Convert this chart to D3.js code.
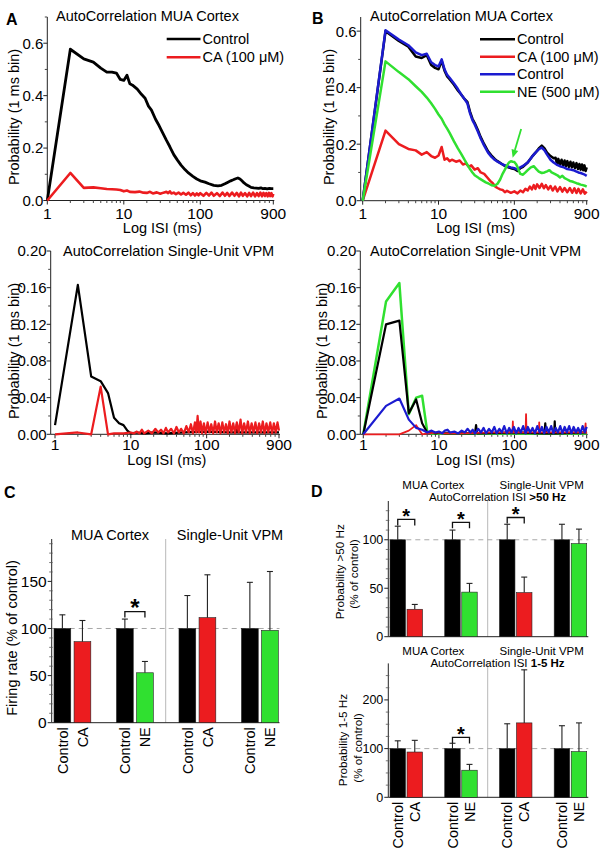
<!DOCTYPE html>
<html><head><meta charset="utf-8">
<script src="https://cdn.jsdelivr.net/npm/d3@7/dist/d3.min.js"></script>
<style>body{margin:0;background:#fff}svg{display:block;font-family:"Liberation Sans",Arial,Helvetica,sans-serif}</style>
</head><body><script>
// ---------------- DATA ----------------
// ISI (ms) / probability pairs
const aTopControl = [[1,0],[2,0.577],[3,0.54],[4,0.528],[5,0.505],[6,0.49],[7,0.49],[8,0.486],[9,0.462],[10,0.458],[11,0.478],[12,0.445],[13,0.44],[15,0.425],[17,0.405],[19,0.39],[21,0.36],[23,0.345],[26,0.31],[29,0.285],[32,0.26],[36,0.23],[40,0.205],[45,0.175],[50,0.155],[56,0.135],[63,0.118],[70,0.105],[80,0.092],[90,0.082],[100,0.075],[115,0.07],[130,0.064],[150,0.058],[170,0.056],[190,0.058],[210,0.064],[230,0.07],[250,0.075],[270,0.079],[290,0.083],[310,0.086],[330,0.082],[350,0.075],[370,0.068],[400,0.06],[430,0.055],[460,0.05],[500,0.048],[540,0.047],[580,0.046],[620,0.048],[660,0.045],[700,0.046],[750,0.044],[800,0.046],[850,0.045],[900,0.045]];
const aTopCA = [[1,0],[2,0.105],[3,0.048],[4,0.05],[5,0.047],[6,0.044],[7,0.043],[8,0.042],[9,0.04],[10,0.035],[11,0.038],[12,0.033],[14,0.032],[16,0.034],[18,0.03],[20,0.029],[22,0.033],[24,0.027],[27,0.031],[30,0.026],[33,0.03],[36,0.033],[38,0.028],[40,0.035],[42,0.027],[45,0.03],[48,0.024],[52,0.03],[56,0.023],[60,0.029],[65,0.022],[70,0.03],[75,0.02],[80,0.028],[85,0.019],[90,0.027],[95,0.02],[100,0.028],[110,0.018],[120,0.029],[130,0.019],[140,0.03],[150,0.018],[165,0.028],[180,0.017],[195,0.03],[210,0.018],[225,0.029],[240,0.017],[260,0.03],[280,0.018],[300,0.029],[320,0.016],[340,0.03],[360,0.018],[385,0.028],[410,0.016],[435,0.029],[460,0.017],[490,0.03],[520,0.016],[550,0.028],[580,0.017],[610,0.03],[640,0.016],[670,0.029],[700,0.017],[730,0.028],[760,0.016],[790,0.029],[820,0.017],[850,0.028],[880,0.016],[900,0.025]];

const bTopControl1 = [[1,0],[2,0.6],[3,0.565],[4,0.545],[5,0.51],[6,0.505],[7,0.515],[8,0.48],[9,0.47],[10,0.465],[11,0.495],[12,0.46],[13,0.44],[14,0.43],[16,0.41],[18,0.39],[20,0.375],[22,0.36],[24,0.35],[26,0.315],[28,0.29],[30,0.275],[33,0.25],[36,0.225],[40,0.2],[45,0.175],[50,0.16],[55,0.148],[60,0.14],[70,0.128],[80,0.12],[90,0.115],[100,0.112],[110,0.105],[120,0.115],[130,0.12],[150,0.135],[170,0.155],[190,0.17],[210,0.185],[230,0.195],[250,0.185],[270,0.17],[300,0.158],[330,0.15],[350,0.152],[365,0.13],[380,0.148],[400,0.128],[420,0.145],[440,0.125],[460,0.142],[480,0.122],[500,0.14],[525,0.12],[550,0.138],[575,0.118],[600,0.135],[630,0.115],[660,0.133],[690,0.112],[720,0.13],[750,0.11],[780,0.128],[810,0.108],[840,0.125],[870,0.105],[900,0.118]];
const bTopCA = [[1,0],[2,0.248],[3,0.2],[4,0.183],[5,0.178],[6,0.163],[7,0.172],[8,0.158],[9,0.152],[10,0.16],[11,0.19],[12,0.145],[13,0.15],[14,0.14],[15,0.145],[17,0.138],[19,0.142],[21,0.128],[23,0.132],[25,0.12],[27,0.125],[30,0.11],[33,0.115],[36,0.1],[40,0.095],[44,0.082],[48,0.07],[52,0.062],[56,0.05],[60,0.045],[65,0.04],[70,0.038],[75,0.03],[80,0.035],[90,0.028],[100,0.033],[110,0.026],[120,0.036],[130,0.03],[140,0.042],[150,0.036],[160,0.05],[170,0.04],[180,0.055],[190,0.042],[200,0.058],[215,0.045],[230,0.06],[245,0.044],[260,0.055],[280,0.04],[300,0.052],[320,0.036],[345,0.05],[370,0.033],[400,0.048],[430,0.032],[460,0.045],[500,0.03],[540,0.045],[580,0.028],[620,0.044],[660,0.027],[700,0.042],[750,0.026],[800,0.04],[850,0.025],[900,0.032]];
const bTopControl2 = [[1,0],[2,0.603],[3,0.57],[4,0.55],[5,0.525],[6,0.515],[7,0.52],[8,0.49],[9,0.48],[10,0.475],[11,0.5],[12,0.465],[13,0.445],[14,0.435],[16,0.415],[18,0.395],[20,0.375],[22,0.36],[24,0.345],[26,0.31],[28,0.285],[30,0.27],[33,0.245],[36,0.22],[40,0.195],[45,0.17],[50,0.155],[55,0.145],[60,0.138],[70,0.128],[80,0.122],[90,0.118],[100,0.115],[110,0.11],[120,0.118],[130,0.123],[150,0.135],[170,0.155],[190,0.17],[210,0.182],[230,0.188],[250,0.178],[270,0.163],[300,0.145],[330,0.135],[360,0.128],[400,0.122],[450,0.118],[500,0.112],[550,0.11],[600,0.108],[650,0.104],[700,0.1],[750,0.098],[800,0.095],[850,0.092],[900,0.088]];
const bTopNE = [[1,0],[2,0.493],[3,0.455],[4,0.43],[5,0.405],[6,0.385],[7,0.365],[8,0.345],[9,0.325],[10,0.305],[11,0.29],[12,0.27],[13,0.255],[14,0.24],[16,0.21],[18,0.185],[20,0.165],[22,0.145],[24,0.128],[26,0.112],[28,0.1],[30,0.09],[34,0.08],[38,0.072],[42,0.065],[46,0.06],[50,0.055],[55,0.053],[60,0.06],[65,0.075],[70,0.095],[75,0.11],[80,0.125],[85,0.135],[90,0.14],[95,0.138],[100,0.137],[105,0.13],[110,0.12],[115,0.105],[120,0.095],[130,0.092],[140,0.1],[150,0.108],[165,0.118],[180,0.122],[195,0.112],[210,0.103],[230,0.098],[250,0.1],[270,0.104],[290,0.108],[310,0.1],[340,0.095],[370,0.09],[400,0.082],[430,0.088],[460,0.08],[500,0.075],[540,0.07],[580,0.068],[620,0.065],[660,0.062],[700,0.06],[750,0.057],[800,0.055],[850,0.053],[900,0.05]];
const bTopArrow = [[123,0.254],[95,0.152]]; // NE peak annotation

const aBotControl = [[1,0.01],[2,0.163],[3,0.063],[4,0.058],[5,0.045],[6,0.018],[7,0.012],[8,0.01],[9,0.004],[10,0.001],[12,0.002],[15,0.001],[20,0.002],[30,0.001],[50,0.002],[100,0.003],[200,0.002],[245,0.002],[250,0.011],[255,0.002],[500,0.002],[900,0.002]];
const aBotCA = [[1,0],[2,0.002],[3,0],[4,0.052],[5,0],[6,0.001],[8,0.001],[10,0.002],[11,0.001],[12,0.003],[13,0.001],[14,0.005],[15,0.001],[17,0.004],[19,0.001],[21,0.006],[23,0.002],[25,0.005],[27,0.001],[29,0.007],[31,0.002],[34,0.006],[37,0.001],[40,0.008],[43,0.002],[46,0.006],[50,0.001],[54,0.009],[58,0.002],[62,0.011],[66,0.001],[70,0.013],[73,0.002],[76,0.02],[79,0.002],[83,0.014],[87,0.001],[92,0.012],[97,0.001],[103,0.013],[109,0.002],[115,0.011],[122,0.001],[129,0.014],[136,0.002],[144,0.012],[152,0.001],[161,0.013],[170,0.002],[180,0.011],[190,0.001],[200,0.014],[212,0.002],[224,0.012],[237,0.001],[250,0.013],[265,0.002],[280,0.016],[295,0.001],[312,0.012],[330,0.002],[350,0.014],[370,0.001],[392,0.012],[415,0.002],[440,0.013],[465,0.001],[492,0.012],[520,0.002],[550,0.014],[580,0.001],[615,0.012],[650,0.002],[690,0.013],[730,0.001],[770,0.012],[815,0.002],[860,0.013],[900,0.004]];

const bBotNE = [[1,0],[2,0.145],[3,0.165],[4,0.022],[5,0.04],[6,0.042],[7,0.003],[8,0.001],[10,0.001],[20,0.001],[50,0.001],[900,0.001]];
const bBotControl1 = [[1,0],[2,0.12],[3,0.124],[4,0.023],[5,0.038],[6,0.012],[7,0.002],[8,0.003],[9,0.001],[10,0.002],[12,0.001],[30,0.001],[31,0.01],[32,0.001],[100,0.002],[250,0.001],[255,0.012],[260,0.001],[335,0.001],[340,0.014],[345,0.001],[900,0.002]];
const bBotCA = [[1,0],[3,0],[4,0.004],[5,0.01],[6,0],[7,0.001],[10,0.002],[11,0.001],[20,0.001],[50,0.002],[94,0.002],[95,0.014],[96,0.002],[140,0.002],[142,0.022],[144,0.002],[210,0.002],[212,0.013],[214,0.002],[850,0.002],[870,0.012],[880,0.002],[900,0.001]];
const bBotControl2 = [[1,0],[2,0.031],[3,0.039],[4,0.016],[5,0.007],[6,0.005],[7,0.002],[8,0.004],[9,0.002],[10,0.003],[11,0.001],[12,0.004],[13,0.005],[14,0.002],[16,0.003],[18,0.001],[20,0.004],[22,0.002],[24,0.006],[26,0.002],[28,0.005],[30,0.001],[33,0.006],[36,0.002],[39,0.007],[42,0.001],[46,0.006],[50,0.002],[54,0.008],[58,0.001],[63,0.006],[68,0.002],[73,0.009],[79,0.001],[85,0.007],[91,0.002],[98,0.008],[105,0.001],[113,0.007],[121,0.002],[130,0.009],[140,0.001],[150,0.008],[161,0.002],[173,0.007],[186,0.001],[200,0.009],[215,0.002],[230,0.008],[247,0.001],[265,0.008],[284,0.002],[305,0.009],[327,0.001],[350,0.007],[375,0.002],[402,0.009],[430,0.001],[460,0.008],[493,0.002],[528,0.009],[565,0.001],[605,0.008],[648,0.002],[694,0.007],[743,0.001],[795,0.009],[850,0.002],[900,0.008]];

// tick labels
const xTickLabels = [1, 10, 100, 900];
const xMinorTicks = [2,3,4,5,6,7,8,9,20,30,40,50,60,70,80,90,200,300,400,500,600,700,800];
const yTicksTop = [0, 0.2, 0.4, 0.6];
const yMinorTop = [0.1, 0.3, 0.5, 0.7];
const yTicksBot = [0, 0.04, 0.08, 0.12, 0.16, 0.2];
const yMinorBot = [0.02, 0.06, 0.1, 0.14, 0.18];

// bar charts
const barGroups = ["MUA-CA", "MUA-NE", "VPM-CA", "VPM-NE"];
const drugNames = ["CA", "NE", "CA", "NE"];
const ctlMean = [100, 100, 100, 100];
// Panel C: firing rate
const cCtlErr = [14.5, 10, 35, 49];
const cDrugMean = [86, 53, 111.5, 98];
const cDrugErr = [22.5, 12, 45.5, 62.5];
const cSig = [[1, 118]];
const cYTicks = [0, 50, 100, 150];
// Panel D top: probability > 50 Hz
const dTopCtlErr = [14, 10, 16, 16];
const dTopDrugMean = [28.3, 46, 45.5, 96];
const dTopDrugErr = [5, 9, 16, 15];
const dTopSig = [[0, 121], [1, 118], [2, 123]];
const dTopYTicks = [0, 50, 100];
// Panel D bottom: probability 1-5 Hz
const dBotCtlErr = [16, 11, 51, 47];
const dBotDrugMean = [93, 55.6, 152.8, 93.8];
const dBotDrugErr = [24, 12, 109, 59];
const dBotSig = [[1, 123]];
const dBotYTicks = [0, 100, 200];

// ---------------- STYLE ----------------
const COL = {black:"#000000", red:"#ec1c1f", blue:"#1b1bd0", green:"#30e030"};
const drugColor = {CA: COL.red, NE: COL.green};

const svg = d3.select("body").append("svg").attr("width", 600).attr("height", 852);

function txt(g, x, y, s, size, anchor, weight) {
  return g.append("text").attr("x", x).attr("y", y).attr("font-size", size)
    .attr("text-anchor", anchor || "start").attr("font-weight", weight || "normal").attr("fill", "#000").text(s);
}

function logPanel(o) {
  const g = svg.append("g");
  const x = d3.scaleLog().domain([o.x0, 900]).range([o.axL, o.axR]);
  const y = d3.scaleLinear().domain([0, o.yMax]).range([o.y0, o.yTop]);
  // axes
  g.append("line").attr("x1", o.axL).attr("x2", o.axL).attr("y1", o.yTop).attr("y2", o.y0).attr("stroke", "#222").attr("stroke-width", 1);
  g.append("line").attr("x1", o.axL).attr("x2", o.axR + 1).attr("y1", o.y0).attr("y2", o.y0).attr("stroke", "#222").attr("stroke-width", 1);
  xTickLabels.forEach(v => {
    g.append("line").attr("x1", x(v)).attr("x2", x(v)).attr("y1", o.y0).attr("y2", o.y0 + 4).attr("stroke", "#222");
    txt(g, x(v), o.y0 + o.xlabDy, v, 15.5, "middle");
  });
  xMinorTicks.forEach(v => {
    g.append("line").attr("x1", x(v)).attr("x2", x(v)).attr("y1", o.y0).attr("y2", o.y0 + 2.5).attr("stroke", "#444");
  });
  o.yTicks.forEach(v => {
    g.append("line").attr("x1", o.axL - 4).attr("x2", o.axL).attr("y1", y(v)).attr("y2", y(v)).attr("stroke", "#222");
    txt(g, o.axL - 4, y(v), d3.format(o.yFmt)(v), 15, "end").attr("dy", "0.36em");
  });
  o.yMinor.forEach(v => {
    if (v <= o.yMax) g.append("line").attr("x1", o.axL - 2.5).attr("x2", o.axL).attr("y1", y(v)).attr("y2", y(v)).attr("stroke", "#444");
  });
  txt(g, (o.axL + o.axR) / 2 + 2, o.y0 + o.xtitleDy, "Log ISI (ms)", 14.5, "middle");
  g.append("text").attr("transform", `translate(${o.ytitleX},${o.ytitleY}) rotate(-90)`)
    .attr("text-anchor", "middle").attr("dy", "0.35em").attr("font-size", 14.5).text("Probability (1 ms bin)");
  txt(g, o.titleX, o.titleY, o.title, 14.5, "start");
  const line = d3.line().x(d => x(d[0])).y(d => y(d[1]));
  o.series.forEach(s => {
    g.append("path").datum(s.data).attr("d", line).attr("fill", "none")
      .attr("stroke", s.color).attr("stroke-width", s.lw || o.lw).attr("stroke-linejoin", "round");
  });
  if (o.legend) {
    o.legend.forEach((l, i) => {
      const ly = o.legY + i * o.legStep;
      g.append("line").attr("x1", o.legX1).attr("x2", o.legX2).attr("y1", ly).attr("y2", ly)
        .attr("stroke", l.color).attr("stroke-width", 2.5);
      txt(g, o.legX2 + 2, ly, l.label, 14.5, "start").attr("dy", "0.35em");
    });
  }
  if (o.arrow) {
    const [p0, p1] = o.arrow.map(d => [x(d[0]), y(d[1])]);
    const ang = Math.atan2(p1[1] - p0[1], p1[0] - p0[0]);
    const L = 8, Wd = 3.5;
    const base = [p1[0] - L * Math.cos(ang), p1[1] - L * Math.sin(ang)];
    g.append("line").attr("x1", p0[0]).attr("y1", p0[1]).attr("x2", base[0]).attr("y2", base[1])
      .attr("stroke", COL.green).attr("stroke-width", 1.8);
    const pts = [p1, [base[0] + Wd * Math.sin(ang), base[1] - Wd * Math.cos(ang)], [base[0] - Wd * Math.sin(ang), base[1] + Wd * Math.cos(ang)]];
    g.append("polygon").attr("points", pts.map(p => p.join(",")).join(" ")).attr("fill", COL.green);
  }
}

// Panel A top
logPanel({x0: 1, axL: 47.3, axR: 273.3, y0: 200.5, yTop: 17, yMax: 0.7,
  yTicks: yTicksTop, yMinor: yMinorTop, yFmt: ".1f", xlabDy: 18, xtitleDy: 32,
  ytitleX: 14, ytitleY: 117, title: "AutoCorrelation MUA Cortex", titleX: 56, titleY: 20.5, lw: 2.6,
  series: [{data: aTopControl, color: COL.black, lw: 2.8}, {data: aTopCA, color: COL.red}],
  legend: [{label: "Control", color: COL.black}, {label: "CA (100 \u03bcM)", color: COL.red}],
  legX1: 166.7, legX2: 200.5, legY: 39, legStep: 18.3});

// Panel B top
logPanel({x0: 0.941, axL: 360.7, axR: 586.7, y0: 200.7, yTop: 17, yMax: 0.65,
  yTicks: yTicksTop, yMinor: [0.1, 0.3, 0.5], yFmt: ".1f", xlabDy: 18, xtitleDy: 32,
  ytitleX: 329, ytitleY: 117, title: "AutoCorrelation MUA Cortex", titleX: 370, titleY: 20.5, lw: 2.5,
  series: [{data: bTopControl1, color: COL.black}, {data: bTopCA, color: COL.red}, {data: bTopControl2, color: COL.blue}, {data: bTopNE, color: COL.green}],
  legend: [{label: "Control", color: COL.black}, {label: "CA (100 \u03bcM)", color: COL.red}, {label: "Control", color: COL.blue}, {label: "NE (500 \u03bcM)", color: COL.green}],
  legX1: 480, legX2: 515, legY: 39.3, legStep: 17.5, arrow: bTopArrow});

// Panel A bottom
logPanel({x0: 0.877, axL: 50.7, axR: 279, y0: 434.3, yTop: 251, yMax: 0.2,
  yTicks: yTicksBot, yMinor: yMinorBot, yFmt: ".2f", xlabDy: 16, xtitleDy: 31,
  ytitleX: 14, ytitleY: 351, title: "AutoCorrelation Single-Unit VPM", titleX: 63, titleY: 255.5, lw: 2.2,
  series: [{data: aBotControl, color: COL.black}, {data: aBotCA, color: COL.red}]});

// Panel B bottom
logPanel({x0: 0.913, axL: 360.3, axR: 586.7, y0: 434.3, yTop: 251, yMax: 0.2,
  yTicks: yTicksBot, yMinor: yMinorBot, yFmt: ".2f", xlabDy: 16, xtitleDy: 31,
  ytitleX: 322, ytitleY: 351, title: "AutoCorrelation Single-Unit VPM", titleX: 370, titleY: 255.5, lw: 2.2,
  series: [{data: bBotNE, color: COL.green, lw: 2.5}, {data: bBotControl1, color: COL.black}, {data: bBotCA, color: COL.red, lw: 1.8}, {data: bBotControl2, color: COL.blue}]});

// ---------------- BAR PANELS ----------------
function barPanel(o) {
  const g = svg.append("g");
  const y = d3.scaleLinear().domain([0, o.yMax]).range([o.y0, o.yTop]);
  const gx = d3.scaleBand().domain(barGroups).range([o.bx0, o.bx1]).paddingInner(o.pin).paddingOuter(0);
  const ix = d3.scaleBand().domain(["ctl", "drug"]).range([0, gx.bandwidth()]).paddingInner(o.pin2).paddingOuter(0);
  // divider + dashed 100 line
  g.append("line").attr("x1", o.divX).attr("x2", o.divX).attr("y1", o.divTop).attr("y2", o.y0).attr("stroke", "#b8b8b8").attr("stroke-width", 1);
  g.append("line").attr("x1", o.axL).attr("x2", o.axR).attr("y1", y(100)).attr("y2", y(100))
    .attr("stroke", "#a8a8a8").attr("stroke-width", 1).attr("stroke-dasharray", "5,4");
  // axes
  g.append("line").attr("x1", o.axL).attr("x2", o.axL).attr("y1", o.yTop).attr("y2", o.y0).attr("stroke", "#222");
  g.append("line").attr("x1", o.axL).attr("x2", o.axR).attr("y1", o.y0).attr("y2", o.y0).attr("stroke", "#222");
  o.yTicks.forEach(v => {
    g.append("line").attr("x1", o.axL - 4).attr("x2", o.axL).attr("y1", y(v)).attr("y2", y(v)).attr("stroke", "#222");
    txt(g, o.axL - 5, y(v), v, o.tickFs, "end").attr("dy", "0.36em");
  });
  d3.range(o.minorStep, o.yMax, o.minorStep).forEach(v => {
    if (!o.yTicks.includes(v)) g.append("line").attr("x1", o.axL - 2.5).attr("x2", o.axL + 1).attr("y1", y(v)).attr("y2", y(v)).attr("stroke", "#555").attr("stroke-width", 0.8);
  });
  const rows = barGroups.map((k, i) => [
    {g: k, s: "ctl", m: ctlMean[i], e: o.ctlErr[i], c: COL.black, label: "Control"},
    {g: k, s: "drug", m: o.drugMean[i], e: o.drugErr[i], c: drugColor[drugNames[i]], label: drugNames[i]}
  ]).flat();
  const bx = d => gx(d.g) + ix(d.s);
  const bw = ix.bandwidth();
  // error bars
  rows.forEach(d => {
    const cx = bx(d) + bw / 2;
    g.append("line").attr("x1", cx).attr("x2", cx).attr("y1", y(d.m)).attr("y2", y(d.m + d.e)).attr("stroke", "#222").attr("stroke-width", 1.1);
    g.append("line").attr("x1", cx - 3).attr("x2", cx + 3).attr("y1", y(d.m + d.e)).attr("y2", y(d.m + d.e)).attr("stroke", "#222").attr("stroke-width", 1.1);
  });
  g.selectAll("rect.bar").data(rows).join("rect").attr("class", "bar")
    .attr("x", bx).attr("width", bw).attr("y", d => y(d.m)).attr("height", d => o.y0 - y(d.m))
    .attr("fill", d => d.c).attr("stroke", "#222").attr("stroke-width", 0.6);
  if (o.xLabels) {
    rows.forEach(d => {
      g.append("text").attr("transform", `translate(${bx(d) + bw / 2},${o.y0 + 4.5}) rotate(-90)`)
        .attr("text-anchor", "end").attr("dy", "0.36em").attr("font-size", 14.5).text(d.label);
    });
  }
  // significance brackets
  o.sig.forEach(([gi, v]) => {
    const k = barGroups[gi];
    const x1 = gx(k) + ix("ctl") + bw / 2, x2 = gx(k) + ix("drug") + bw / 2;
    const yy = y(v);
    g.append("path").attr("d", `M${x1},${yy + 6}V${yy}H${x2}V${yy + 6}`).attr("fill", "none").attr("stroke", "#111").attr("stroke-width", 1.3);
    txt(g, (x1 + x2) / 2, yy + o.starDy, "*", o.starFs, "middle", "bold");
  });
  o.headers.forEach(h => {
    const t = g.append("text").attr("x", h.x).attr("y", h.y).attr("text-anchor", "middle").attr("font-size", o.headFs);
    h.parts.forEach(p => t.append("tspan").attr("font-weight", p.b ? "bold" : "normal").text(p.t));
  });
  o.ytitle.forEach(t => {
    g.append("text").attr("transform", `translate(${t.x},${t.y}) rotate(-90)`).attr("text-anchor", "middle")
      .attr("dy", "0.35em").attr("font-size", t.fs).text(t.s);
  });
}

// Panel C
barPanel({y0: 722.7, yTop: 539, yMax: 195, axL: 51.7, axR: 279.5, bx0: 54, bx1: 278.3, pin: 0.411, pin2: 0.165,
  divX: 165.7, divTop: 539, yTicks: cYTicks, minorStep: 10, tickFs: 15.5,
  ctlErr: cCtlErr, drugMean: cDrugMean, drugErr: cDrugErr, sig: cSig, starDy: 4, starFs: 24, xLabels: true,
  headFs: 14.5, headers: [{x: 110, y: 540, parts: [{t: "MUA Cortex"}]}, {x: 230, y: 540, parts: [{t: "Single-Unit VPM"}]}],
  ytitle: [{x: 12, y: 638, s: "Firing rate (% of control)", fs: 14.5}]});

// Panel D top
barPanel({y0: 636.7, yTop: 501, yMax: 140, axL: 388.3, axR: 588.3, bx0: 390, bx1: 586.7, pin: 0.406, pin2: 0.09,
  divX: 487.7, divTop: 501, yTicks: dTopYTicks, minorStep: 10, tickFs: 12.5,
  ctlErr: dTopCtlErr, drugMean: dTopDrugMean, drugErr: dTopDrugErr, sig: dTopSig, starDy: 4, starFs: 20, xLabels: false,
  headFs: 11.5, headers: [{x: 433.3, y: 489, parts: [{t: "MUA Cortex"}]}, {x: 541.7, y: 489, parts: [{t: "Single-Unit VPM"}]},
    {x: 497.5, y: 500.5, parts: [{t: "AutoCorrelation ISI "}, {t: ">50 Hz", b: true}]}],
  ytitle: [{x: 340, y: 571.7, s: "Probability >50 Hz", fs: 11.7}, {x: 354, y: 574, s: "(% of control)", fs: 11.7}]});

// Panel D bottom
barPanel({y0: 797.3, yTop: 663.4, yMax: 275, axL: 388.3, axR: 588.3, bx0: 390, bx1: 586.7, pin: 0.406, pin2: 0.09,
  divX: 487.7, divTop: 663.4, yTicks: dBotYTicks, minorStep: 25, tickFs: 12.5,
  ctlErr: dBotCtlErr, drugMean: dBotDrugMean, drugErr: dBotDrugErr, sig: dBotSig, starDy: 4, starFs: 20, xLabels: true,
  headFs: 11.5, headers: [{x: 433.3, y: 654.5, parts: [{t: "MUA Cortex"}]}, {x: 541.7, y: 654.5, parts: [{t: "Single-Unit VPM"}]},
    {x: 497.5, y: 667, parts: [{t: "AutoCorrelation ISI "}, {t: "1-5 Hz", b: true}]}],
  ytitle: [{x: 343.3, y: 740, s: "Probability 1-5 Hz", fs: 11.7}, {x: 358, y: 748, s: "(% of control)", fs: 11.7}]});

// Panel letters
[["A", 6, 25], ["B", 312, 24], ["C", 4, 498], ["D", 311, 497]].forEach(([s, x, yy]) => txt(svg, x, yy, s, 16, "start", "bold"));
</script></body></html>
